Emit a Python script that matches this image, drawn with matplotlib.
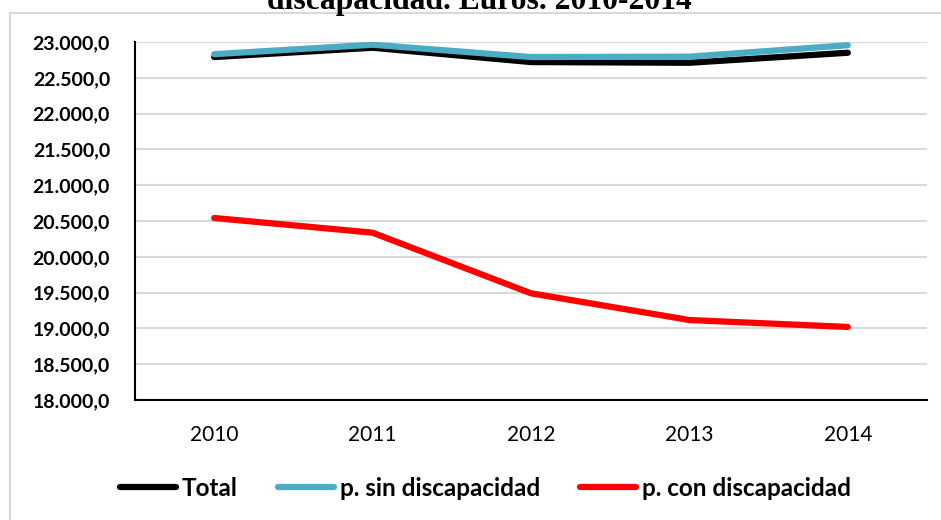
import matplotlib.pyplot as plt
from matplotlib.patches import Rectangle
from matplotlib.ticker import FuncFormatter

# data
years = ['2010', '2011', '2012', '2013', '2014']
total = [22790, 22920, 22720, 22710, 22850]
sin_disc = [22830, 22962, 22790, 22795, 22955]
con_disc = [20542, 20337, 19490, 19117, 19020]
y_ticks = [18000 + 500 * i for i in range(11)]

fig = plt.figure(figsize=(9.41, 5.20), dpi=100)

# light frame round the chart area (Excel chart border)
fig.patches.append(Rectangle((10 / 941, -0.1), 1.2, 1.1 - 13 / 520, transform=fig.transFigure,
                             fill=False, edgecolor='#D9D9D9', linewidth=1.5))

# title, partly cut at the top like in the reference
fig.text(479.5 / 941, 1 - 9 / 520, 'discapacidad. Euros. 2010-2014', ha='center', va='baseline',
         family='Liberation Serif', fontweight='bold', fontsize=22.8)

ax = fig.add_axes([135 / 941, 1 - 400 / 520, (927 - 135) / 941, (400 - 42) / 520])
x = range(len(years))
ax.plot(x, total, color='black', lw=4.5, solid_capstyle='round', label='Total')
ax.plot(x, sin_disc, color='#4BACC6', lw=4.5, solid_capstyle='round', label='p. sin discapacidad')
ax.plot(x, con_disc, color='#FF0000', lw=4.5, solid_capstyle='round', label='p. con discapacidad')

ax.set_xlim(-0.5, 4.5)
ax.set_ylim(18000, 23000)
ax.set_yticks(y_ticks)
ax.yaxis.set_major_formatter(FuncFormatter(lambda v, p: '{:,.1f}'.format(v).replace(',', ' ').replace('.', ',').replace(' ', '.')))
ax.set_xticks(list(x))
ax.set_xticklabels(years)

ax.grid(axis='y', color='#D9D9D9', lw=1.5)
ax.set_axisbelow(True)
for s in ['top', 'right']:
    ax.spines[s].set_visible(False)
for s in ['left', 'bottom']:
    ax.spines[s].set_color('black')
    ax.spines[s].set_linewidth(1.5)
ax.tick_params(axis='both', length=0)
ax.tick_params(axis='y', pad=18)
ax.tick_params(axis='x', pad=18)
for lab in ax.get_yticklabels():
    lab.set_family('Lato')
    lab.set_fontweight('bold')
    lab.set_fontsize(14)
for lab in ax.get_xticklabels():
    lab.set_family('Lato')
    lab.set_fontsize(15)

leg = fig.legend(loc='center', bbox_to_anchor=(485.5 / 941, 1 - 488 / 520), ncol=3, frameon=False,
                 prop={'family': 'Lato', 'weight': 'bold', 'size': 17.5},
                 handlelength=2.3, handletextpad=0.25, columnspacing=1.65)

fig.savefig('out.png', dpi=100)
